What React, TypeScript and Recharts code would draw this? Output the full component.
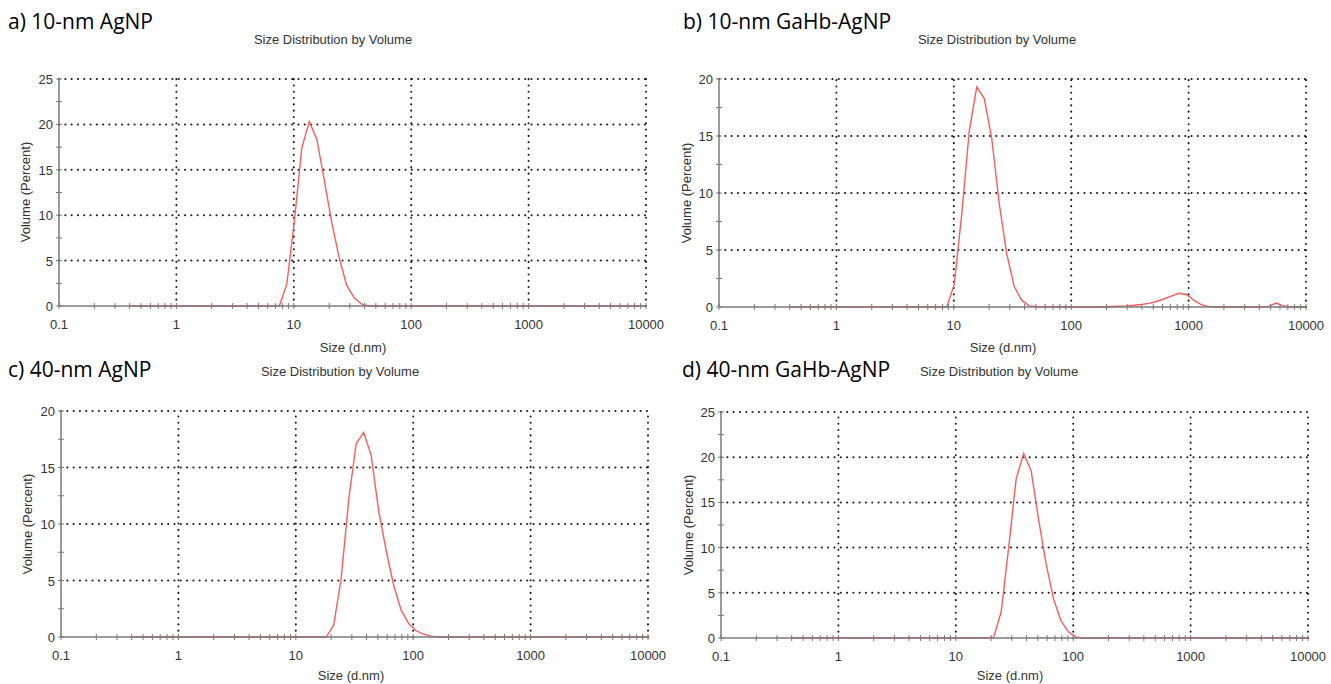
import { LineChart, Line, XAxis, YAxis, ReferenceLine } from "recharts";

// Malvern size classes (d.nm)
const SIZES = [
  0.4, 0.4632, 0.5365, 0.6213, 0.7195, 0.8332, 0.9649, 1.117, 1.294, 1.499,
  1.736, 2.01, 2.328, 2.696, 3.122, 3.615, 4.187, 4.849, 5.615, 6.503,
  7.531, 8.721, 10.1, 11.7, 13.54, 15.69, 18.17, 21.04, 24.36, 28.21,
  32.67, 37.84, 43.82, 50.75, 58.77, 68.06, 78.82, 91.28, 105.7, 122.4,
  141.8, 164.2, 190.1, 220.2, 255.0, 295.3, 342.0, 396.1, 458.7, 531.2,
  615.1, 712.4, 825.0, 955.4, 1106, 1281, 1484, 1718, 1990, 2305,
  2669, 3091, 3580, 4145, 4801, 5560, 6439, 7456, 8635, 10000,
];

const VOL_10_AGNP = [
  0, 0, 0, 0, 0, 0, 0, 0, 0, 0,
  0, 0, 0, 0, 0, 0, 0, 0, 0, 0,
  0, 2.4, 9.3, 17.4, 20.3, 18.4, 13.9, 9.2, 5.3, 2.3,
  0.9, 0.2, 0, 0, 0, 0, 0, 0, 0, 0,
  0, 0, 0, 0, 0, 0, 0, 0, 0, 0,
  0, 0, 0, 0, 0, 0, 0, 0, 0, 0,
  0, 0, 0, 0, 0, 0, 0, 0, 0, 0,
];

const VOL_10_GAHB = [
  0, 0, 0, 0, 0, 0, 0, 0, 0, 0,
  0, 0, 0, 0, 0, 0, 0, 0, 0, 0,
  0, 0, 2.0, 8.2, 15.4, 19.3, 18.3, 14.8, 9.1, 4.7,
  1.8, 0.6, 0.1, 0.02, 0.02, 0.02, 0.02, 0, 0, 0,
  0, 0, 0.02, 0.04, 0.07, 0.1, 0.15, 0.22, 0.32, 0.48,
  0.7, 0.95, 1.2, 1.1, 0.6, 0.2, 0.03, 0, 0, 0,
  0, 0, 0, 0, 0.05, 0.35, 0.1, 0, 0, 0,
];

const VOL_40_AGNP = [
  0, 0, 0, 0, 0, 0, 0, 0, 0, 0,
  0, 0, 0, 0, 0, 0, 0, 0, 0, 0,
  0, 0, 0, 0, 0, 0, 0, 1.06, 5.2, 12.1,
  17.1, 18.1, 16.1, 11.2, 7.7, 4.6, 2.4, 1.2, 0.55, 0.25,
  0.08, 0, 0, 0, 0, 0, 0, 0, 0, 0,
  0, 0, 0, 0, 0, 0, 0, 0, 0, 0,
  0, 0, 0, 0, 0, 0, 0, 0, 0, 0,
];

const VOL_40_GAHB = [
  0, 0, 0, 0, 0, 0, 0, 0, 0, 0,
  0, 0, 0, 0, 0, 0, 0, 0, 0, 0,
  0, 0, 0, 0, 0, 0, 0, 0.1, 2.9, 10.0,
  17.6, 20.4, 18.5, 13.1, 8.2, 4.3, 1.9, 0.66, 0.1, 0,
  0, 0, 0, 0, 0, 0, 0, 0, 0, 0,
  0, 0, 0, 0, 0, 0, 0, 0, 0, 0,
  0, 0, 0, 0, 0, 0, 0, 0, 0, 0,
];

const X_MAJOR = [0.1, 1, 10, 100, 1000, 10000];
const X_MINOR_STEPS = [2, 3, 4, 5, 6, 7, 8, 9];
const Y_TICKS_25 = [0, 2.5, 5, 7.5, 10, 12.5, 15, 17.5, 20, 22.5, 25];
const Y_TICKS_20 = [0, 2.5, 5, 7.5, 10, 12.5, 15, 17.5, 20];

const X_TICKS = [
  ...X_MAJOR,
  ...X_MAJOR.slice(0, -1).flatMap((d) => X_MINOR_STEPS.map((s) => +(d * s).toPrecision(3))),
].sort((a, b) => a - b);

const FONT = "'Liberation Sans', Arial, sans-serif";
const TEXT = "#333";
const AXIS = "#7a7a7a";
const GRID = { stroke: "#1a1a1a", strokeWidth: 2, strokeDasharray: "0.1 6.2", strokeLinecap: "round" as const };

function XTick(props: any) {
  const { x, y, payload } = props;
  const major = X_MAJOR.includes(payload.value);
  return (
    <g>
      <line x1={x} x2={x} y1={y - 3} y2={y + 3} stroke={AXIS} strokeWidth={1} />
      {major && (
        <text x={x} y={y + 23} textAnchor="middle" fontSize={13} fontFamily={FONT} fill={TEXT}>
          {payload.value}
        </text>
      )}
    </g>
  );
}

function YTick(props: any) {
  const { x, y, payload } = props;
  const major = payload.value % 5 === 0;
  return (
    <g>
      <line x1={x - 3} x2={x + 3} y1={y} y2={y} stroke={AXIS} strokeWidth={1} />
      {major && (
        <text x={x - 6} y={y + 5} textAnchor="end" fontSize={13} fontFamily={FONT} fill={TEXT}>
          {payload.value}
        </text>
      )}
    </g>
  );
}

type PanelProps = {
  values: number[];
  yTicks: number[];
  L: number;
  T: number;
  W: number;
  H: number;
};

function Panel({ values, yTicks, L, T, W, H }: PanelProps) {
  const data = SIZES.map((size, i) => ({ size, v: values[i] }));
  const yMax = yTicks[yTicks.length - 1];
  return (
    <div style={{ position: "absolute", left: L - 50, top: T - 10 }}>
      <LineChart width={W + 70} height={H + 50} data={data} margin={{ top: 10, right: 20, bottom: 0, left: 0 }}>
        <XAxis
          dataKey="size"
          type="number"
          scale="log"
          domain={[0.1, 10000]}
          ticks={X_TICKS}
          interval={0}
          allowDataOverflow
          height={40}
          tickSize={0}
          tickMargin={0}
          tick={<XTick />}
          axisLine={{ stroke: AXIS, strokeWidth: 1.5 }}
          tickLine={false}
        />
        <YAxis
          type="number"
          domain={[0, yMax]}
          ticks={yTicks}
          interval={0}
          width={50}
          tickSize={0}
          tickMargin={0}
          tick={<YTick />}
          axisLine={{ stroke: AXIS, strokeWidth: 1.5 }}
          tickLine={false}
        />
        {yTicks
          .filter((t) => t > 0 && t % 5 === 0)
          .map((t) => (
            <ReferenceLine key={"y" + t} y={t} {...GRID} />
          ))}
        {X_MAJOR.slice(1).map((t) => (
          <ReferenceLine key={"x" + t} x={t} {...GRID} />
        ))}
        <Line
          dataKey="v"
          type="linear"
          stroke="#ff5a5a"
          strokeWidth={1.4}
          dot={false}
          isAnimationActive={false}
        />
      </LineChart>
    </div>
  );
}

const PANELS = [
  { label: "a) 10-nm AgNP", values: VOL_10_AGNP, yTicks: Y_TICKS_25, L: 59, T: 79, W: 587, H: 227, lx: 8, ly: 29, tx: 333, ty: 44, sx: 353, sy: 352, vx: 25, vy: 192 },
  { label: "b) 10-nm GaHb-AgNP", values: VOL_10_GAHB, yTicks: Y_TICKS_20, L: 719, T: 79, W: 587, H: 228, lx: 683, ly: 29, tx: 997, ty: 44, sx: 1003, sy: 352, vx: 686, vy: 193 },
  { label: "c) 40-nm AgNP", values: VOL_40_AGNP, yTicks: Y_TICKS_20, L: 61, T: 411, W: 587, H: 226, lx: 8, ly: 377, tx: 340, ty: 376, sx: 351, sy: 680, vx: 27, vy: 524 },
  { label: "d) 40-nm GaHb-AgNP", values: VOL_40_GAHB, yTicks: Y_TICKS_25, L: 721, T: 412, W: 587, H: 226, lx: 682, ly: 377, tx: 999, ty: 376, sx: 1010, sy: 680, vx: 688, vy: 525 },
];

export default function App() {
  return (
    <div style={{ position: "absolute", left: 0, top: 0, width: 1331, height: 684, background: "#fff", overflow: "hidden" }}>
      {PANELS.map((p) => (
        <Panel key={p.label} values={p.values} yTicks={p.yTicks} L={p.L} T={p.T} W={p.W} H={p.H} />
      ))}
      <svg width={1331} height={684} style={{ position: "absolute", left: 0, top: 0, pointerEvents: "none" }}>
        {PANELS.map((p) => (
          <g key={p.label}>
            <text x={p.lx} y={p.ly} fontSize={21} fontFamily="'Open Sans', sans-serif" fill="#000">
              {p.label}
            </text>
            <text x={p.tx} y={p.ty} fontSize={13} fontFamily={FONT} fill={TEXT} textAnchor="middle">
              Size Distribution by Volume
            </text>
            <text x={p.sx} y={p.sy} fontSize={13} fontFamily={FONT} fill={TEXT} textAnchor="middle">
              Size (d.nm)
            </text>
            <text
              x={p.vx}
              y={p.vy}
              fontSize={13}
              fontFamily={FONT}
              fill={TEXT}
              textAnchor="middle"
              dominantBaseline="central"
              transform={`rotate(-90 ${p.vx} ${p.vy})`}
            >
              Volume (Percent)
            </text>
          </g>
        ))}
      </svg>
    </div>
  );
}
